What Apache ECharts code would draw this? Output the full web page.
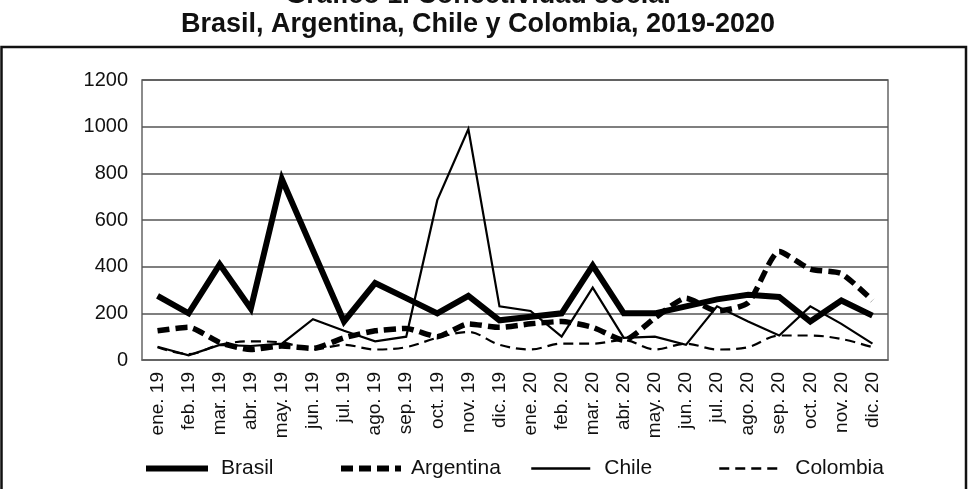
<!DOCTYPE html>
<html>
<head>
<meta charset="utf-8">
<script src="https://cdn.jsdelivr.net/npm/echarts@6/dist/echarts.min.js"></script>
<style>
html,body{margin:0;padding:0;background:#fff;}
#chart{width:970px;height:489px;}
</style>
</head>
<body>
<div id="chart"></div>
<script>
var categories = ['ene. 19','feb. 19','mar. 19','abr. 19','may. 19','jun. 19','jul. 19','ago. 19','sep. 19','oct. 19','nov. 19','dic. 19','ene. 20','feb. 20','mar. 20','abr. 20','may. 20','jun. 20','jul. 20','ago. 20','sep. 20','oct. 20','nov. 20','dic. 20'];
var brasil = [275,200,410,220,775,470,165,330,265,200,275,170,185,200,405,200,200,230,260,280,270,165,255,190];
var argentina = [125,140,75,45,60,50,95,125,135,100,155,140,155,165,140,85,180,265,210,245,465,390,370,255];
var chile = [57,20,65,60,70,175,125,80,100,685,990,230,210,100,310,95,100,65,230,165,105,230,155,70];
var colombia = [55,25,65,80,75,45,65,45,55,95,120,65,45,70,70,85,45,70,45,55,105,105,90,55];
var titleLines = ['Gráfico 1. Conectividad social', 'Brasil, Argentina, Chile y Colombia, 2019-2020'];
var seriesNames = ['Brasil','Argentina','Chile','Colombia'];

var FONT = '"Liberation Sans", Arial, Helvetica, sans-serif';
var chart = echarts.init(document.getElementById('chart'), null, {renderer:'canvas'});

function legendFor(name, left, width, lw, gap) {
  return {
    data: [name], left: left, top: 458, padding: 0, itemWidth: width, itemHeight: 14,
    selectedMode: false,
    lineStyle: {width: lw},
    itemStyle: {opacity: 0},
    textStyle: {fontSize: 21, fontFamily: FONT, color: '#111', padding: [0,0,0,gap]}
  };
}

var option = {
  backgroundColor: '#fff',
  animation: false,
  graphic: [
    {type:'rect', shape:{x:1.5, y:47, width:964.5, height:470}, style:{fill:'none', stroke:'#111', lineWidth:2.5}},
    {type:'text', x:478, y:-4, style:{text:titleLines[0], font:'bold 27px ' + FONT, fill:'#111', align:'center', verticalAlign:'middle'}},
    {type:'text', x:478, y:25, style:{text:titleLines[1], font:'bold 27px ' + FONT, fill:'#111', align:'center', verticalAlign:'middle'}}
  ],
  grid: {left:142, right:82, top:80, bottom:129, show:true, borderColor:'#666', borderWidth:1.5, backgroundColor:'#fff'},
  legend: [
    legendFor('Brasil', 143, 62, 6, 8),
    legendFor('Argentina', 338, 60, 6, 5),
    legendFor('Chile', 530, 59, 2.5, 9),
    legendFor('Colombia', 718, 59, 2.5, 12)
  ],
  xAxis: {
    type:'category', data: categories, boundaryGap:true,
    axisLine:{show:true, lineStyle:{color:'#666', width:1.5}},
    axisTick:{show:false},
    axisLabel:{rotate:90, interval:0, fontSize:19, fontFamily:FONT, color:'#111', margin:12}
  },
  yAxis: {
    type:'value', min:0, max:1200, interval:200,
    axisLine:{show:false}, axisTick:{show:false},
    splitLine:{show:true, lineStyle:{color:'#555', width:1.5}},
    axisLabel:{fontSize:20, fontFamily:FONT, color:'#111', margin:14, formatter:function(v){return String(v);}}
  },
  series: [
    {name:'Brasil', type:'line', data:brasil, symbol:'none', lineStyle:{color:'#000', width:6, join:'miter'}, itemStyle:{color:'#000'}},
    {name:'Argentina', type:'line', data:argentina, symbol:'none', smooth:0.2, lineStyle:{color:'#000', width:5.5, type:[12,6]}, itemStyle:{color:'#000'}},
    {name:'Chile', type:'line', data:chile, symbol:'none', lineStyle:{color:'#000', width:2.2, join:'miter'}, itemStyle:{color:'#000'}},
    {name:'Colombia', type:'line', data:colombia, symbol:'none', smooth:0.35, lineStyle:{color:'#000', width:2.2, type:[10,6]}, itemStyle:{color:'#000'}}
  ]
};
chart.setOption(option);
</script>
</body>
</html>
